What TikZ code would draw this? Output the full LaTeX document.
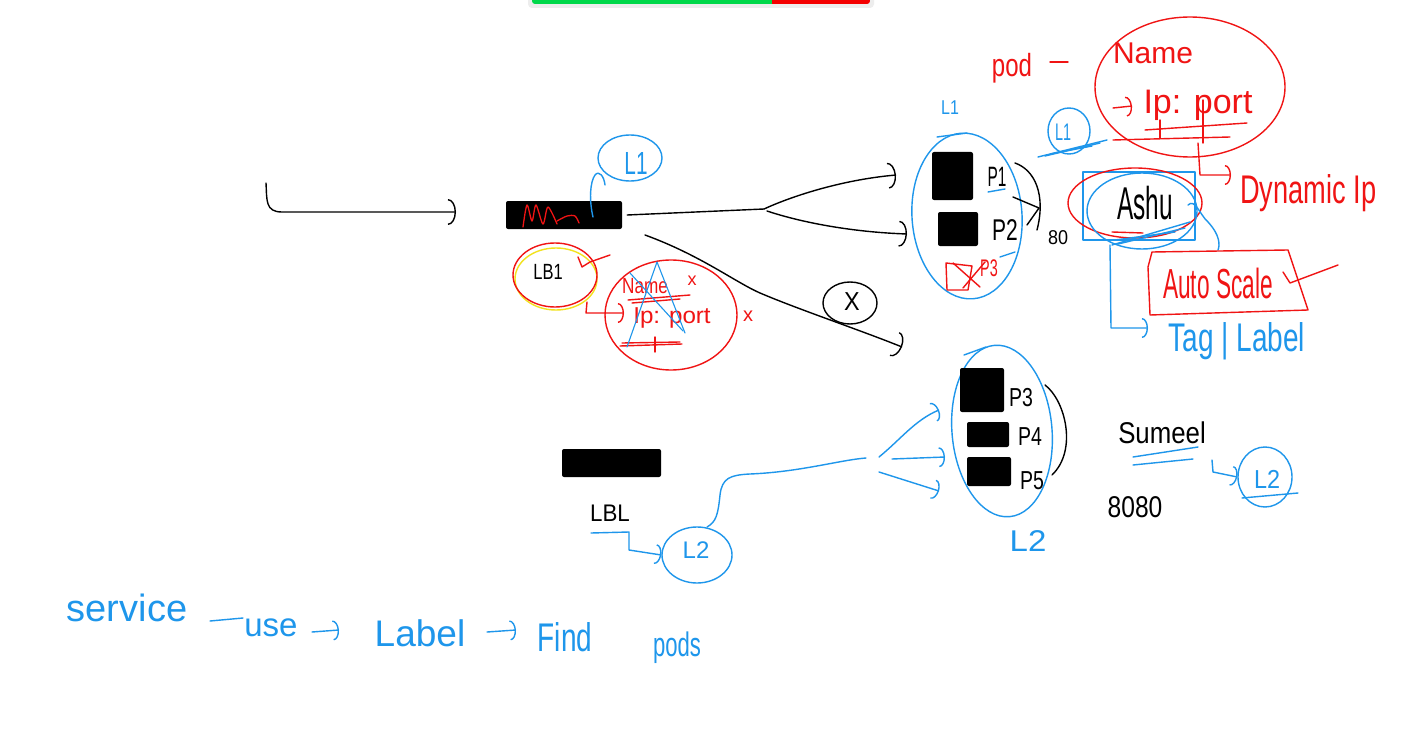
\documentclass[tikz,border=0pt]{standalone}
\usepackage{fontspec}
\setmainfont{Liberation Sans}
\usetikzlibrary{arrows.meta,shapes.geometric}
\definecolor{bl}{HTML}{1E96EB}
\definecolor{rd}{HTML}{F01414}
\definecolor{yl}{HTML}{F2E21E}
\definecolor{barg}{HTML}{00D84A}
\definecolor{barr}{HTML}{F40000}
\newcommand\handtxt[3]{\scalebox{#2}[1]{\fontsize{#1}{#1}\selectfont #3}}
\tikzset{
  pen/.style={line width=1.4pt, line cap=round, line join=round},
  bpen/.style={pen, draw=bl},
  rpen/.style={pen, draw=rd},
  kpen/.style={pen, draw=black},
  hd/.style={-{Arc Barb[length=8pt,width=26pt]}},
  hds/.style={-{Arc Barb[length=6pt,width=20pt]}},
  bell/.style={bpen, ellipse, inner sep=0pt},
  rell/.style={rpen, ellipse, inner sep=0pt},
  kell/.style={kpen, ellipse, inner sep=0pt},
  blackbox/.style={fill=black, rounded corners=2pt, inner sep=0pt, draw=none},
  btxt/.style={text=bl, inner sep=0pt},
  rtxt/.style={text=rd, inner sep=0pt},
  ktxt/.style={text=black, inner sep=0pt}
}
\begin{document}
\begin{tikzpicture}[x=1pt,y=-1pt]
\useasboundingbox (0,0) rectangle (1403,733);
\fill[white] (0,0) rectangle (1403,733);

% top bar
\fill[black!7, rounded corners=4pt] (528,-6) rectangle (874,8);
\begin{scope}
\clip[rounded corners=3pt] (532,-6) rectangle (870,4);
\fill[barg] (532,-6) rectangle (772,4);
\fill[barr] (772,-6) rectangle (870,4);
\end{scope}

% left incoming arrow
\coordinate (s0) at (266,183);
\coordinate (s1) at (456,212);
\draw[kpen,hd] (s0) .. controls (267,200) and (265,212) .. (282,212) -- (s1);

% load balancer 1
\node[blackbox, minimum width=116pt, minimum height=28pt] (lbA) at (564,215) {};
\draw[rpen, line width=1.3pt] plot[smooth] coordinates {(523,227) (527,205) (532,221) (536,205) (543,224) (548,207) (557,224)};
\draw[rpen, line width=1.3pt] plot[smooth] coordinates {(557,221) (567,216) (575,216) (579,223)};

% L1 circle near LB
\node[bell, minimum width=64pt, minimum height=46pt] (L1a) at (630,158) {};
\node[btxt] at (636,163) {\handtxt{32}{.65}{L1}};
\coordinate (t0) at (593,217);
\coordinate (t1) at (605,185);
\draw[bpen] (t0) .. controls (589,200) and (590,182) .. (595,175) .. controls (599,170) and (604,176) .. (t1);

% main line and fork
\coordinate (fork) at (764,209);
\draw[kpen] ([xshift=5pt]lbA.east) -- (fork);
\coordinate (up1) at (896,175);
\coordinate (dn1) at (907,234);
\draw[kpen,hd] (fork) .. controls (790,197) and (840,180) .. (up1);
\draw[kpen,hd] (767,211) .. controls (800,222) and (850,232) .. (dn1);

% lower crossed-out line
\coordinate (lw0) at (645,235);
\coordinate (lw1) at (902,347);
\draw[kpen,hd] (lw0) .. controls (700,255) and (735,282) .. (760,293) .. controls (800,310) and (860,330) .. (lw1);
\node[kell, minimum width=54pt, minimum height=42pt] (xc) at (850,303) {};
\node[ktxt] at (852,302) {\handtxt{26}{.9}{X}};

% LB1
\node[draw=yl, pen, ellipse, inner sep=0pt, minimum width=82pt, minimum height=62pt] (lb1y) at (556,279) {};
\node[rell, minimum width=84pt, minimum height=64pt] (lb1) at (555,275) {};
\node[ktxt] at (548,272) {\handtxt{22}{.75}{LB1}};
\draw[rpen] (578,257) -- (582,267) -- (590,262) -- (610,255);
\draw[rpen,hds] (587,302) -- (586,313) -- (624,313);

% crossed out pod circle
\node[rell, minimum width=132pt, minimum height=110pt] (pc) at (671,315) {};
\node[rtxt] at (645,286) {\handtxt{22}{.78}{Name}};
\node[rtxt] at (692,281) {\handtxt{18}{1}{x}};
\draw[rpen] (628,300) -- (690,295);
\draw[rpen] (632,303) -- (680,299);
\node[rtxt] at (672,318) {\handtxt{23}{1.05}{Ip: port}};
\draw[rpen] (620,346) -- (682,344);
\draw[rpen] (622,343) -- (680,342);
\draw[rpen] (655,337) -- (655,352);
\node[rtxt] at (748,316) {\handtxt{20}{1}{x}};
\draw[bpen, line width=1.1pt] (627,347) -- (657,262) -- (685,333);
\draw[bpen, line width=1.1pt] (630,273) -- (683,331);

% pod group L1
\node[bell, minimum width=110pt, minimum height=166pt, rotate=4] (gA) at (967,216) {};
\draw[bpen] (937,137) -- (967,133);
\node[btxt] at (950,108) {\handtxt{20}{.8}{L1}};
\node[blackbox, minimum width=41pt, minimum height=48pt] (p1) at (952.5,176) {};
\node[blackbox, minimum width=40pt, minimum height=34pt] (p2) at (958,229) {};
\node[ktxt] at (997,177) {\handtxt{28}{.55}{P1}};
\draw[bpen] (988,192) -- (1005,189);
\node[ktxt] at (1005,230) {\handtxt{30}{.7}{P2}};
\draw[rpen] (946,263) -- (947,290) -- (968,290) -- (972,266) -- cycle;
\draw[rpen] (953,263) -- (980,287);
\draw[rpen] (963,288) -- (985,262);
\node[rtxt] at (989,268) {\handtxt{24}{.6}{P3}};
\draw[bpen] (1000,257) -- (1015,252);
\draw[kpen] (1015,163) .. controls (1035,170) and (1046,195) .. (1037,230);
\draw[kpen] (1013,197) -- (1039,208) -- (1027,225);
\node[ktxt] at (1058,238) {\handtxt{20}{.9}{80}};

% small L1 circle
\node[bell, minimum width=42pt, minimum height=46pt] (L1b) at (1069,131) {};
\node[btxt] at (1063,132) {\handtxt{24}{.6}{L1}};
\draw[bpen] (1038,157) -- (1107,140);
\draw[bpen] (1045,156) -- (1100,143);
\draw[bpen] (1050,154) -- (1092,146);

% pod definition
\node[rtxt] (pod) at (1012,68) {\handtxt{32}{.75}{pod}};
\draw[rpen] (1050,62) -- (1068,62);
\node[rell, minimum width=190pt, minimum height=140pt] (nm) at (1190,87) {};
\node[rtxt] at (1153,53) {\handtxt{30}{1}{Name}};
\draw[rpen,hds] (1113,108) -- (1132,106);
\node[rtxt] at (1198,105) {\handtxt{34}{1}{Ip: port}};
\draw[rpen] (1145,130) -- (1247,123);
\draw[rpen] (1113,140) -- (1230,137);
\draw[rpen] (1160,120) -- (1160,138);
\draw[rpen] (1203,100) -- (1203,143);
\draw[rpen,hds] (1198,143) -- (1200,175) -- (1231,175);
\node[rtxt, anchor=base west] (dyn) at (1240,203) {\handtxt{40}{.68}{Dynamic Ip}};

% Ashu
\draw[bpen] (1083,172) rectangle (1195,240);
\node[rell, minimum width=134pt, minimum height=70pt] (ashR) at (1135,203) {};
\node[bell, minimum width=110pt, minimum height=76pt] (ashB) at (1142,211) {};
\node[ktxt] (ashu) at (1145,203) {\handtxt{46}{.53}{Ashu}};
\draw[bpen] (1112,245) -- (1190,222);
\draw[bpen] (1118,244) -- (1185,228);
\draw[bpen] (1115,240) -- (1175,232);
\draw[rpen] (1112,232) -- (1143,233);
\draw[bpen] (1188,205) .. controls (1195,198) and (1200,215) .. (1208,222) .. controls (1220,235) and (1220,245) .. (1218,250);
\draw[bpen,hds] (1110,245) -- (1111,328) -- (1148,328);
\node[btxt] at (1237,341) {\handtxt{40}{.7}{Tag | Label}};

% Auto scale
\draw[rpen] (1148,267) -- (1152,252) -- (1288,250) -- (1308,310) -- (1150,315) -- cycle;
\node[rtxt] at (1218,283) {\handtxt{42}{.54}{Auto Scale}};
\draw[rpen] (1283,272) -- (1290,283) -- (1338,265);

% load balancer 2
\node[blackbox, minimum width=99pt, minimum height=28pt] (lbB) at (611.5,463) {};
\node[ktxt] at (610,513) {\handtxt{24}{.93}{LBL}};
\node[bell, minimum width=70pt, minimum height=56pt] (L2a) at (697,555) {};
\node[btxt] at (696,550) {\handtxt{24}{1}{L2}};
\draw[bpen,hds] (591,533) -- (629,532) -- (629,550) -- (L2a.west);
\coordinate (f2) at (866,458);
\draw[bpen] (707,527) .. controls (716,522) and (718,515) .. (720,495) .. controls (722,478) and (730,475) .. (750,474) .. controls (800,472) and (840,460) .. (f2);
\draw[bpen,hds] (879,457) .. controls (900,440) and (915,420) .. (939,410);
\draw[bpen,hds] (892,459) -- (945,457);
\draw[bpen,hds] (879,472) -- (939,491);

% pod group L2
\node[bell, minimum width=100pt, minimum height=172pt, rotate=5] (gB) at (1002,431) {};
\draw[bpen] (964,355) -- (986,347);
\node[blackbox, minimum width=44pt, minimum height=44pt] (q1) at (982,390) {};
\node[blackbox, minimum width=42pt, minimum height=25pt] (q2) at (988,434.5) {};
\node[blackbox, minimum width=44pt, minimum height=29pt] (q3) at (989,471.5) {};
\node[ktxt] at (1021,398) {\handtxt{26}{.75}{P3}};
\node[ktxt] at (1030,437) {\handtxt{26}{.75}{P4}};
\node[ktxt] at (1032,481) {\handtxt{26}{.75}{P5}};
\draw[kpen] (1045,385) .. controls (1065,400) and (1078,450) .. (1052,475);
\node[btxt] at (1028,541) {\handtxt{30}{1.1}{L2}};

% Sumeel
\node[ktxt] at (1162,433) {\handtxt{30}{.86}{Sumeel}};
\draw[bpen] (1133,457) -- (1198,447);
\draw[bpen] (1133,465) -- (1193,459);
\node[ktxt] at (1135,507) {\handtxt{30}{.82}{8080}};
\node[bell, minimum width=54pt, minimum height=60pt] (L2b) at (1265,477) {};
\node[btxt] at (1267,479) {\handtxt{26}{.9}{L2}};
\draw[bpen] (1242,498) -- (1298,493);
\draw[bpen,hds] (1212,460) -- (1213,472) -- (L2b.west);

% bottom sentence
\node[btxt] (sv) at (127,608) {\handtxt{38}{1}{service}};
\draw[bpen] (210,621) -- (243,618);
\node[btxt] (us) at (271,628) {\handtxt{33}{1}{use}};
\draw[bpen,hds] (312,632) -- (339,630);
\node[btxt] (lb) at (420,633) {\handtxt{37}{1}{Label}};
\draw[bpen,hds] (487,632) -- (516,630);
\node[btxt] (fd) at (565,637) {\handtxt{40}{.7}{Find}};
\node[btxt] (pd) at (677,648) {\handtxt{34}{.65}{pods}};
\end{tikzpicture}
\end{document}
